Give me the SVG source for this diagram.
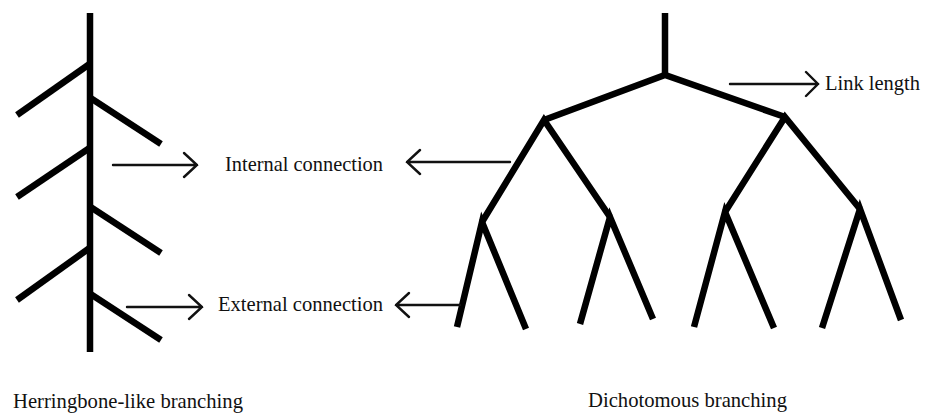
<svg xmlns="http://www.w3.org/2000/svg" width="935" height="415" viewBox="0 0 935 415">
<defs>
<style>
.br{fill:none;stroke:#000;stroke-width:6.5;stroke-linecap:butt;stroke-linejoin:miter}
.ar{fill:none;stroke:#111;stroke-width:2.4;stroke-linecap:round;stroke-linejoin:miter}
.lb{font-family:"Liberation Serif","Times New Roman",serif;font-size:21px;fill:#111}
</style>
</defs>
<rect width="935" height="415" fill="#fff"/>
<g id="herringbone">
<path class="br" d="M90,13 V352"/>
<path class="br" d="M91,63 L17,115"/>
<path class="br" d="M89,97 L161,144"/>
<path class="br" d="M91,147 L17,197"/>
<path class="br" d="M89,206 L161,253"/>
<path class="br" d="M91,247 L17,300"/>
<path class="br" d="M89,293 L161,340"/>
</g>
<g id="dichotomous">
<path class="br" d="M665,13 V76"/>
<path class="br" d="M544,120 L665,75 L785,117"/>
<path class="br" d="M482,222 L544,120 L610,217"/>
<path class="br" d="M725,212 L785,117 L860,209"/>
<path class="br" d="M457,327 L482,222 L526,329"/>
<path class="br" d="M580,324 L610,217 L653,319"/>
<path class="br" d="M694,327 L725,212 L774,328"/>
<path class="br" d="M822,328 L860,209 L901,320"/>
</g>
<g id="connectors">
<path class="ar" d="M113,165 H197 M184,153 L197,165 L184,177"/>
<path class="ar" d="M510,162 H407 M420,150 L407,162 L420,174"/>
<path class="ar" d="M127,307 H202 M189,295 L202,307 L189,319"/>
<path class="ar" d="M460,305 H396 M409,293 L396,305 L409,317"/>
<path class="ar" d="M730,84 H818 M806,72 L818,84 L806,96"/>
</g>
<g id="label-internal"><text class="lb" x="225" y="171" textLength="158" lengthAdjust="spacingAndGlyphs">Internal connection</text></g>
<g id="label-external"><text class="lb" x="218" y="311" textLength="165" lengthAdjust="spacingAndGlyphs">External connection</text></g>
<g id="label-link"><text class="lb" x="825" y="90" textLength="95" lengthAdjust="spacingAndGlyphs">Link length</text></g>
<g id="title-herringbone"><text class="lb" x="13" y="408" textLength="230" lengthAdjust="spacingAndGlyphs">Herringbone-like branching</text></g>
<g id="title-dichotomous"><text class="lb" x="588" y="407" textLength="199" lengthAdjust="spacingAndGlyphs">Dichotomous branching</text></g>
</svg>
